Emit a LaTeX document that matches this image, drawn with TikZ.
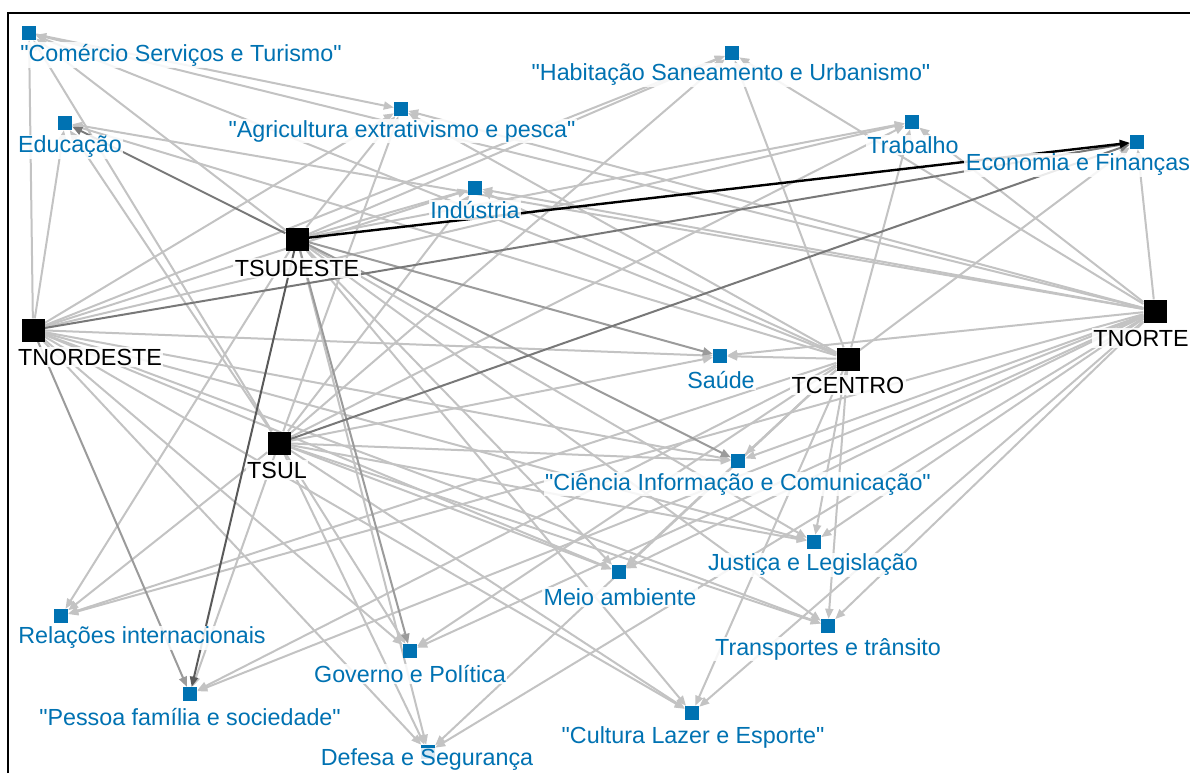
\documentclass[tikz,border=0pt]{standalone}
\usepackage{fontspec}
\setmainfont{Liberation Sans}
\usetikzlibrary{arrows.meta}
\definecolor{topicblue}{RGB}{0,114,178}
\definecolor{edgelight}{RGB}{195,195,195}
\definecolor{edgemid}{RGB}{155,155,155}
\definecolor{edgedark}{RGB}{120,120,120}
\definecolor{edgedeep}{RGB}{90,90,90}
\pgfdeclarelayer{edges}
\pgfsetlayers{edges,main}
\newcommand{\qq}{\textquotedbl}
\begin{document}
\begin{tikzpicture}[x=1pt,y=-1pt,
  topic/.style={rectangle,fill=topicblue,draw=none,minimum size=14pt,inner sep=0pt},
  region/.style={rectangle,fill=black,draw=none,minimum size=23pt,inner sep=0pt},
  lbl/.style={font=\fontsize{23.3}{26}\selectfont,text=topicblue,fill=white,
    fill opacity=0.85,text opacity=1,inner sep=1.5pt},
  rlbl/.style={lbl,text=black},
  edge/.style={draw=edgelight,line width=2pt,-{Triangle[length=10pt,width=8pt]}},
]
\useasboundingbox (0,0) rectangle (1190,773);

% region nodes
\node[region] (se) at (297,239) {};
\node[region] (ne) at (33,330) {};
\node[region] (no) at (1155,311) {};
\node[region] (co) at (848,359) {};
\node[region] (su) at (279,443) {};

% topic nodes
\node[topic] (cst) at (29,33) {};
\node[topic] (edu) at (65,123) {};
\node[topic] (agr) at (401,109) {};
\node[topic] (hab) at (732,53) {};
\node[topic] (tra) at (912,122) {};
\node[topic] (eco) at (1137,142) {};
\node[topic] (ind) at (475,188) {};
\node[topic] (sau) at (720,356) {};
\node[topic] (cie) at (738,461) {};
\node[topic] (jus) at (814,542) {};
\node[topic] (mei) at (619,572) {};
\node[topic] (rel) at (61,616) {};
\node[topic] (trn) at (828,626) {};
\node[topic] (gov) at (410,651) {};
\node[topic] (pes) at (190,694) {};
\node[topic] (cul) at (692,713) {};
\node[topic] (def) at (428,752) {};

% connectors, kept underneath the squares and labels
\begin{pgfonlayer}{edges}
\fill[white] (0,0) rectangle (1190,773);
\foreach \s/\t in {
  se/cst,se/agr,se/hab,se/tra,se/ind,se/jus,se/mei,se/rel,se/trn,se/cul,se/def,
  ne/cst,ne/edu,ne/agr,ne/hab,ne/tra,ne/ind,ne/sau,ne/cie,ne/jus,ne/mei,ne/trn,ne/gov,ne/cul,ne/def,
  no/cst,no/edu,no/agr,no/hab,no/tra,no/eco,no/ind,no/sau,no/cie,no/jus,no/mei,no/rel,no/trn,no/gov,no/pes,no/cul,no/def,
  co/cst,co/edu,co/agr,co/hab,co/tra,co/eco,co/ind,co/sau,co/cie,co/jus,co/mei,co/rel,co/trn,co/gov,co/pes,co/cul,co/def,
  su/cst,su/edu,su/agr,su/hab,su/tra,su/ind,su/sau,su/cie,su/jus,su/mei,su/rel,su/trn,su/gov,su/pes,su/cul,su/def,
  cst/agr}
  \draw[edge] (\s) -- (\t);
\draw[edge,draw=edgemid] (se) -- (sau);
\draw[edge,draw=edgemid] (se) -- (cie);
\draw[edge,draw=edgemid] (se) -- (gov);
\draw[edge,draw=edgemid] (ne) -- (pes);
\draw[edge,draw=edgedark] (se) -- (edu);
\draw[edge,draw=edgedark] (su) -- (eco);
\draw[edge,draw=edgedark] (ne) -- (eco);
\draw[edge,draw=edgedeep] (se) -- (pes);
\draw[edge,draw=black,line width=2.4pt] (se) -- (eco);
\end{pgfonlayer}

% frame
\draw[line width=1.5pt] (8,773) -- (8,13) -- (1190,13);

% labels
\node[lbl] (cst-l) at (181,55) {\qq Comércio Serviços e Turismo\qq};
\node[lbl] (edu-l) at (70,147) {Educação};
\node[lbl] (agr-l) at (402,131) {\qq Agricultura extrativismo e pesca\qq};
\node[lbl] (hab-l) at (731,75) {\qq Habitação Saneamento e Urbanismo\qq};
\node[lbl] (tra-l) at (913,145) {Trabalho};
\node[lbl] (eco-l) at (1078,165) {Economia e Finanças};
\node[lbl] (ind-l) at (475,210) {Indústria};
\node[lbl] (sau-l) at (721,380) {Saúde};
\node[lbl] (cie-l) at (738,484) {\qq Ciência Informação e Comunicação\qq};
\node[lbl] (jus-l) at (813,565) {Justiça e Legislação};
\node[lbl] (mei-l) at (620,597) {Meio ambiente};
\node[lbl] (rel-l) at (142,638) {Relações internacionais};
\node[lbl] (trn-l) at (828,649) {Transportes e trânsito};
\node[lbl] (gov-l) at (410,674) {Governo e Política};
\node[lbl] (pes-l) at (190,717) {\qq Pessoa família e sociedade\qq};
\node[lbl] (cul-l) at (693,737) {\qq Cultura Lazer e Esporte\qq};
\node[lbl] (def-l) at (427,760) {Defesa e Segurança};
\node[rlbl] (se-l) at (297,268) {TSUDESTE};
\node[rlbl] (ne-l) at (90,357) {TNORDESTE};
\node[rlbl] (no-l) at (1141,338) {TNORTE};
\node[rlbl] (co-l) at (848,385) {TCENTRO};
\node[rlbl] (su-l) at (277,470) {TSUL};
\end{tikzpicture}
\end{document}
